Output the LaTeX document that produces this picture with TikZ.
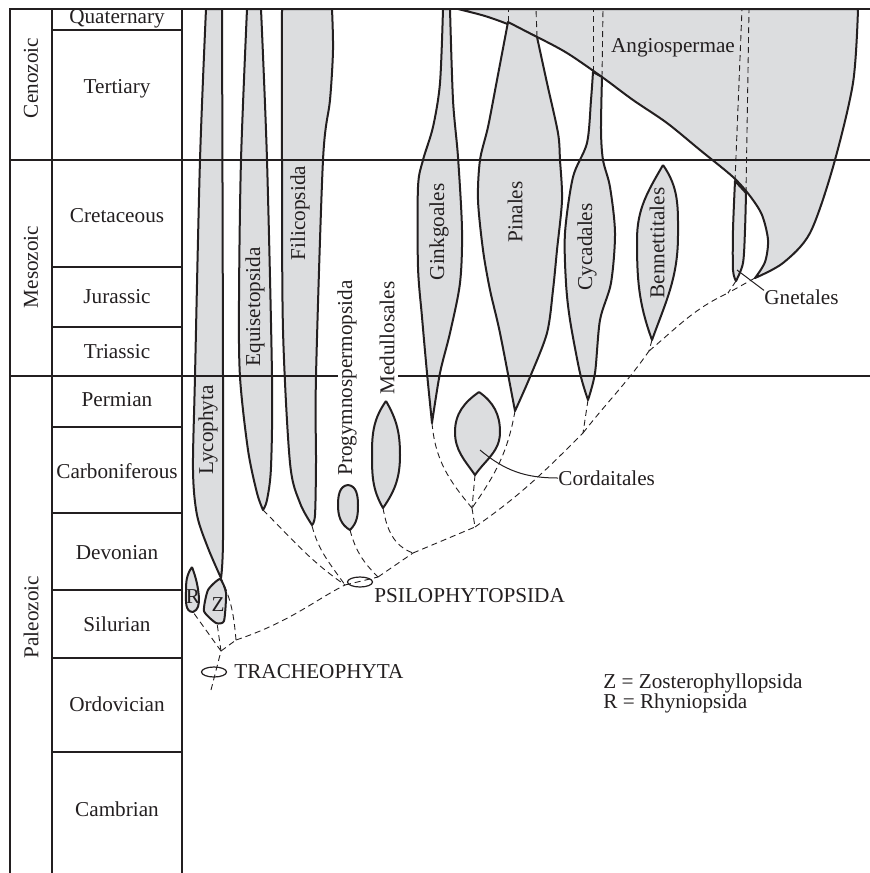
\documentclass[tikz,border=0pt]{standalone}
\usepackage{fontspec}
\setmainfont{Liberation Serif}
\usepackage{tikz}
\usetikzlibrary{shapes.geometric}
\definecolor{col1}{HTML}{DCDDDF}
\definecolor{col2}{HTML}{231F20}

\begin{document}
\begin{tikzpicture}[x=0.5pt, y=-0.5pt, font=\fontsize{10.6}{12}\selectfont]
    \tikzstyle{lin} += [fill=col1, draw=col2, line width=1pt, line join=round];
    \tikzstyle{anc} += [draw=col2, dash pattern=on 3pt off 2pt, line width=0.45pt];
    \tikzstyle{grid} += [draw=col2, line width=0.8pt];
    \tikzstyle{vert} += [rotate=90, inner sep=0pt, text=col2];
    \tikzstyle{lab} += [inner sep=0pt, text=col2];
    \tikzstyle{ell} += [ellipse, draw=col2, line width=0.6pt, minimum width=12.5pt, minimum height=5pt, inner sep=0pt];
    \useasboundingbox (0,0) rectangle (870,873);

    % lineages
    \filldraw[lin] plot[smooth] coordinates {(458,9) (485,16) (510,25) (537,37) (567,53) (602,77) (633,100) (667,123) (700,150) (733,177) (750,196) (762,215) (768,240) (765,262) (755,278)}
      -- plot[smooth] coordinates {(755,278) (783,263) (810,233) (833,167) (853,83) (858,9)} -- cycle;
    \filldraw[lin] plot[smooth] coordinates {(206,9) (200,160) (195,376) (193,470) (197,515) (208,548) (221,578)}
      -- plot[smooth] coordinates {(221,578) (223,540) (223,376) (222,9)} -- cycle;
    \filldraw[lin] plot[smooth] coordinates {(247,9) (241,160) (239,300) (240,377) (248,450) (257,493) (263,510)}
      -- plot[smooth] coordinates {(263,510) (267,500) (271,467) (272,377) (267,160) (261,9)} -- cycle;
    \filldraw[lin] plot[smooth] coordinates {(282,9) (282,160) (283,330) (290,463) (300,503) (312,525)}
      -- plot[smooth] coordinates {(312,525) (315,515) (316,463) (316,376) (323,160) (330,100) (333,50) (332,9)} -- cycle;
    \filldraw[lin] plot[smooth] coordinates {(443,9) (440,83) (433,127) (423,160) (418,187) (418,267) (422,317) (427,373) (432,423)}
      -- plot[smooth] coordinates {(432,423) (440,373) (450,333) (460,283) (462,230) (458,157) (453,100) (450,9)} -- cycle;
    \filldraw[lin] plot[smooth] coordinates {(508,22) (497,80) (488,127) (480,160) (478,200) (483,250) (490,290) (500,333) (515,411)}
      -- plot[smooth] coordinates {(515,411) (530,377) (547,333) (553,290) (557,250) (562,200) (560,160) (558,133) (547,83) (537,37)} -- cycle;
    \filldraw[lin] plot[smooth] coordinates {(593,72) (591,100) (587,143) (573,177) (565,233) (566,283) (570,320) (580,373) (588,400)}
      -- plot[smooth] coordinates {(588,400) (595,373) (600,320) (611,283) (615,233) (610,187) (603,160) (601,130) (602,77)} -- cycle;
    \filldraw[lin] plot[smooth] coordinates {(735,181) (733,230) (733,270) (736,281)}
      -- plot[smooth] coordinates {(736,281) (743,263) (745,230) (746,193)} -- cycle;

    \filldraw[lin] (348,485) to[out=185,in=90] (338,505) to[out=-90,in=150] (350,530) to[out=45,in=-90] (358,505) to[out=90,in=-5] (348,485);
    \filldraw[lin] (386,401) to[out=235,in=90] (372,453) to[out=-90,in=120] (383,508) to[out=55,in=-90] (400,455) to[out=90,in=-60] (386,401);
    \filldraw[lin] (479,392) to[out=215,in=90] (455,432) to[out=-90,in=125] (475,475) to[out=55,in=-90] (500,432) to[out=90,in=-35] (479,392);
    \filldraw[lin] (663,165) to[out=240,in=90] (637,240) to[out=-90,in=110] (652,340) to[out=70,in=-90] (678,235) to[out=90,in=-55] (663,165);
    \filldraw[lin] (192,567) to[out=235,in=90] (186,592) to[out=-90,in=180] (193,612) to[out=20,in=-90] (199,598) to[out=95,in=-70] (192,567);
    \filldraw[lin] plot[smooth cycle, tension=0.35] coordinates {(220,579) (226,593) (224,621) (216,623) (204,611) (208,590)};

    \begin{scope}[anc]
      \draw (508,22) -- (508,9);
      \draw (537,37) -- (536,9);
      \draw (593,72) -- (593,9);
      \draw (602,77) -- (603,9);
      \draw (735,181) -- (742,9);
      \draw (746,193) -- (749,9);
    \end{scope}

    % time scale
    \draw[grid] (10,873) -- (10,9) -- (870,9);
    \draw[grid] (52,9) -- (52,873);
    \draw[grid] (182,9) -- (182,873);
    \draw[grid] (10,160) -- (870,160);
    \draw[grid] (10,376) -- (338,376);
    \draw[grid] (398,376) -- (870,376);
    \draw[grid] (52,30) -- (182,30);
    \draw[grid] (52,267) -- (182,267);
    \draw[grid] (52,327) -- (182,327);
    \draw[grid] (52,427) -- (182,427);
    \draw[grid] (52,513) -- (182,513);
    \draw[grid] (52,590) -- (182,590);
    \draw[grid] (52,658) -- (182,658);
    \draw[grid] (52,752) -- (182,752);

    \node (cen) at ( 31,  78) [vert] {Cenozoic};
    \node (mes) at ( 31, 267) [vert] {Mesozoic};
    \node (pal) at ( 31, 617) [vert] {Paleozoic};

    \node (qua) at (117,  19) [lab] {Quaternary};
    \node (ter) at (117,  89) [lab] {Tertiary};
    \node (cre) at (117, 216) [lab] {Cretaceous};
    \node (jur) at (117, 297) [lab] {Jurassic};
    \node (tri) at (117, 352) [lab] {Triassic};
    \node (per) at (117, 400) [lab] {Permian};
    \node (car) at (117, 471) [lab] {Carboniferous};
    \node (dev) at (117, 553) [lab] {Devonian};
    \node (sil) at (117, 624) [lab] {Silurian};
    \node (ord) at (117, 704) [lab] {Ordovician};
    \node (cam) at (117, 809) [lab] {Cambrian};

    % lineage names
    \node (ly) at (208, 430) [vert] {Lycophyta};
    \node (eq) at (255, 307) [vert] {Equisetopsida};
    \node (fi) at (300, 213) [vert] {Filicopsida};
    \node (pg) at (347, 378) [vert] {Progymnospermopsida};
    \node (md) at (387, 338) [vert] {Medullosales};
    \node (gk) at (439, 232) [vert] {Ginkgoales};
    \node (pn) at (515, 212) [vert] {Pinales};
    \node (cy) at (587, 247) [vert] {Cycadales};
    \node (bn) at (657, 243) [vert] {Bennettitales};
    \node (an) at (673,  48) [lab] {Angiospermae};
    \node (r)  at (193, 597) [lab] {R};
    \node (z)  at (218, 605) [lab] {Z};

    % branch points
    \coordinate (r_e) at (211,690);
    \coordinate (r_0) at (221,651);
    \coordinate (r_1) at (236,640);
    \coordinate (p_0) at (345,585);
    \coordinate (p_1) at (378,577);
    \coordinate (p_2) at (413,553);
    \coordinate (p_3) at (475,527);
    \coordinate (k_1) at (472,508);
    \coordinate (c_0) at (583,433);
    \coordinate (b_0) at (649,351);
    \coordinate (g_0) at (728,293);

    \coordinate (t_ly) at (221,578);
    \coordinate (t_r)  at (193,612);
    \coordinate (t_z)  at (217,623);
    \coordinate (t_eq) at (263,510);
    \coordinate (t_fi) at (312,526);
    \coordinate (t_pg) at (350,530);
    \coordinate (t_md) at (383,508);
    \coordinate (t_gk) at (432,423);
    \coordinate (t_pn) at (515,411);
    \coordinate (t_cd) at (475,475);
    \coordinate (t_cy) at (588,400);
    \coordinate (t_bn) at (652,340);
    \coordinate (t_gn) at (736,281);
    \coordinate (t_an) at (755,278);

    \node (tr) at (214,672) [ell] {};
    \node (ps) at (360,582) [ell] {};
    \node (tr_l) at (234,672) [lab, anchor=west] {TRACHEOPHYTA};
    \node (ps_l) at (374,596) [lab, anchor=west] {PSILOPHYTOPSIDA};

    \begin{scope}[anc]
      \draw (r_e) -- (r_0);
      \draw (r_0) -- (t_r);
      \draw (r_0) -- (t_z);
      \draw (r_0) -- (r_1);
      \draw (r_1) to[out=95, in=-65] (t_ly);
      \draw (r_1) .. controls (290,622) and (315,600) .. (p_0);
      \draw (t_eq) to[out=-45, in=145] (p_0);
      \draw (t_fi) to[out=-75, in=125] (p_0);
      \draw (p_0) -- (p_1);
      \draw (t_pg) to[out=-75, in=135] (p_1);
      \draw (p_1) -- (p_2);
      \draw (t_md) to[out=-80, in=160] (p_2);
      \draw (p_2) -- (p_3);
      \draw (k_1) -- (p_3);
      \draw (t_gk) to[out=-85, in=130] (k_1);
      \draw (t_pn) to[out=-100, in=55] (k_1);
      \draw (t_cd) -- (k_1);
      \draw (p_3) to[out=35, in=225] (c_0);
      \draw (t_cy) -- (c_0);
      \draw (c_0) to[out=52, in=235] (b_0);
      \draw (t_bn) -- (b_0);
      \draw (b_0) to[out=40, in=205] (g_0);
      \draw (t_gn) -- (g_0);
      \draw (t_an) -- (g_0);
    \end{scope}

    % side labels
    \coordinate (c_cd) at (480,450);
    \coordinate (c_gn) at (737,270);
    \node (l_cd) at (558,478) [lab, anchor=west] {Cordaitales};
    \node (l_gn) at (764,297) [lab, anchor=west] {Gnetales};
    \draw[col2, line width=0.5pt] (c_cd) to[out=-40, in=180] (l_cd.west);
    \draw[col2, line width=0.5pt] (c_gn) -- (l_gn.170);

    \node (l_z) at (603,683) [lab, anchor=west] {Z = Zosterophyllopsida};
    \node (l_r) at (603,703) [lab, anchor=west] {R = Rhyniopsida};
\end{tikzpicture}
\end{document}
